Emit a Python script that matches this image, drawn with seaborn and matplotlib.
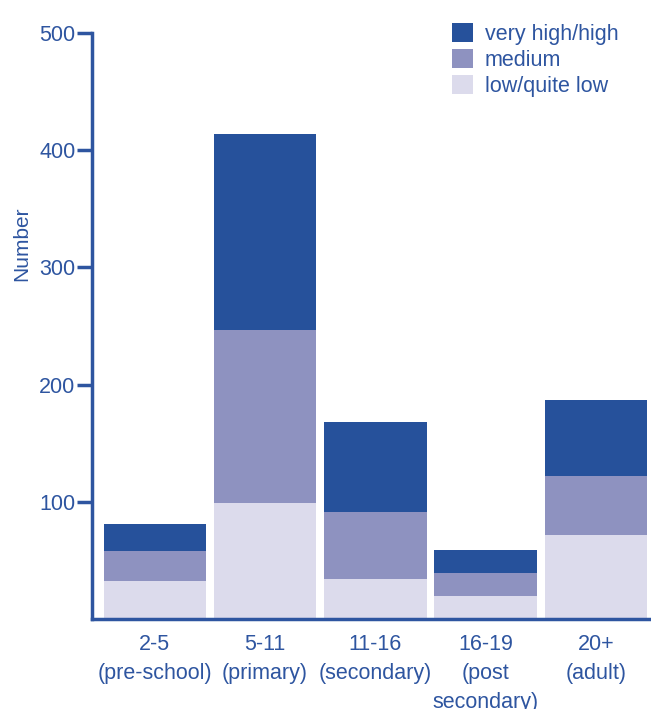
import matplotlib
matplotlib.use("Agg")
import matplotlib.pyplot as plt
import seaborn as sns
import pandas as pd
import numpy as np
from matplotlib.patches import Patch

categories = ["2-5\n(pre-school)", "5-11\n(primary)", "11-16\n(secondary)",
              "16-19\n(post\nsecondary)", "20+\n(adult)"]
low_quite_low = [32, 99, 34, 20, 72]
medium = [26, 148, 57, 19, 50]
very_high_high = [23, 167, 77, 20, 65]
series_names = ["very high/high", "medium", "low/quite low"]
y_ticks = [100, 200, 300, 400, 500]

c_high = "#26519B"
c_med = "#8E92C0"
c_low = "#DCDBEC"
c_text = "#2E55A0"

sns.set_theme(style="white")
plt.rcParams["font.family"] = ["Liberation Sans", "DejaVu Sans"]

df = pd.DataFrame({
    "cat": categories,
    "low": low_quite_low,
    "med": medium,
    "high": very_high_high,
})
df["lowmed"] = df["low"] + df["med"]
df["total"] = df["lowmed"] + df["high"]

fig = plt.figure(figsize=(6.51, 7.09), dpi=100)
ax = fig.add_axes([92 / 651, 90 / 709, 1 - 92 / 651, (619 - 33) / 709])

w = 0.93
sns.barplot(data=df, x="cat", y="total", color=c_high, saturation=1, width=w, ax=ax, linewidth=0)
sns.barplot(data=df, x="cat", y="lowmed", color=c_med, saturation=1, width=w, ax=ax, linewidth=0)
sns.barplot(data=df, x="cat", y="low", color=c_low, saturation=1, width=w, ax=ax, linewidth=0)

ax.set_ylim(0, 500)
ax.set_xlim(-0.57, 4.5)
ax.set_yticks(y_ticks)
ax.set_yticklabels([str(t) for t in y_ticks], fontsize=15.5, color=c_text)
ax.set_xticks(range(len(categories)))
ax.set_xticklabels(categories, fontsize=15.5, color=c_text, linespacing=1.5)
ax.tick_params(axis="y", length=11, width=2.5, color=c_text, pad=1, direction="out", left=True)
ax.tick_params(axis="x", length=0, pad=11)
ax.set_xlabel("")
ax.set_ylabel("Number", fontsize=15, color=c_text)
ax.yaxis.set_label_coords(-0.108, 0.64)

for s in ["top", "right"]:
    ax.spines[s].set_visible(False)
for s in ["left", "bottom"]:
    ax.spines[s].set_color(c_text)
    ax.spines[s].set_linewidth(2.5)

handles = [Patch(facecolor=c, edgecolor="none") for c in (c_high, c_med, c_low)]
leg = ax.legend(handles, series_names, loc="upper left", bbox_to_anchor=(0.61, 1.05),
                frameon=False, fontsize=15.5, handlelength=0.95, handleheight=0.95,
                handletextpad=0.55, labelspacing=0.2)
for t in leg.get_texts():
    t.set_color(c_text)

fig.savefig("out.png", dpi=100)
